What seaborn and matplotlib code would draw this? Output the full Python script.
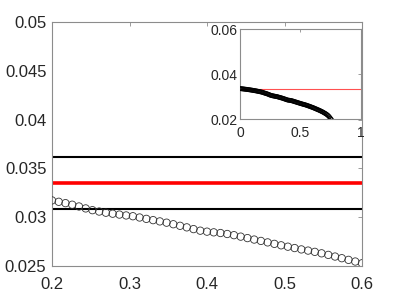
import numpy as np
import pandas as pd
import matplotlib
matplotlib.use('Agg')
import matplotlib.pyplot as plt
import seaborn as sns

sns.set_style("white")
plt.rcParams['font.family'] = ['Liberation Sans', 'DejaVu Sans']

# main data (x from 0.2 to 0.6, 47 points)
x_main = np.linspace(0.2, 0.6, 47)
y_main = [0.03172, 0.03158, 0.03144, 0.03128, 0.03110, 0.03090, 0.03072, 0.03058,
          0.03046, 0.03036, 0.03027, 0.03018, 0.03010, 0.02997, 0.02983, 0.02970,
          0.02957, 0.02944, 0.02928, 0.02912, 0.02896, 0.02878, 0.02862, 0.02852,
          0.02845, 0.02838, 0.02828, 0.02816, 0.02801, 0.02786, 0.02771, 0.02757,
          0.02742, 0.02727, 0.02712, 0.02698, 0.02684, 0.02670, 0.02658, 0.02645,
          0.02630, 0.02614, 0.02597, 0.02580, 0.02563, 0.02546, 0.02528]

# extra points only visible in the inset
x_pre = np.linspace(0.0, 0.2, 24)[:-1]
y_pre = [0.03365, 0.03360, 0.03355, 0.03350, 0.03344, 0.03338, 0.03332, 0.03326,
         0.03319, 0.03312, 0.03305, 0.03298, 0.03290, 0.03282, 0.03274, 0.03265,
         0.03256, 0.03247, 0.03237, 0.03227, 0.03216, 0.03205, 0.03190]
x_post = np.linspace(0.6, 0.7565, 19)[1:]
y_post = [0.02510, 0.02490, 0.02470, 0.02450, 0.02430, 0.02410, 0.02388, 0.02366,
          0.02343, 0.02318, 0.02292, 0.02264, 0.02234, 0.02200, 0.02160, 0.02110,
          0.02050, 0.01990]

upper = 0.0362
mean = 0.0335
lower = 0.0308

main = pd.DataFrame({'x': x_main, 'y': y_main})
full = pd.DataFrame({'x': np.concatenate([x_pre, x_main, x_post]),
                     'y': y_pre + y_main + y_post})

spine_c = '#8c8c8c'
text_c = '#262626'

fig = plt.figure(figsize=(4, 3), dpi=100)
ax = fig.add_axes([0.13, 0.1133, 0.775, 0.8134])

ax.axhline(upper, color='black', lw=1.5)
ax.axhline(lower, color='black', lw=1.5)
ax.axhline(mean, color='red', lw=2.6)
sns.scatterplot(data=main, x='x', y='y', ax=ax, marker='o', s=28,
                facecolors='none', edgecolor='#333333', linewidth=0.6, zorder=3)

ax.set_xlim(0.2, 0.6)
ax.set_ylim(0.025, 0.05)
ax.set_xticks([0.2, 0.3, 0.4, 0.5, 0.6])
ax.set_xticklabels(['0.2', '0.3', '0.4', '0.5', '0.6'])
ax.set_yticks([0.025, 0.03, 0.035, 0.04, 0.045, 0.05])
ax.set_yticklabels(['0.025', '0.03', '0.035', '0.04', '0.045', '0.05'])
ax.set_xlabel('')
ax.set_ylabel('')
ax.tick_params(direction='in', length=3, width=0.6, color=spine_c,
               labelsize=12, labelcolor=text_c, top=True, right=True)
ax.tick_params(axis='x', pad=8)
ax.tick_params(axis='y', pad=4)
for s in ax.spines.values():
    s.set_color(spine_c)
    s.set_linewidth(0.8)

# inset
axi = fig.add_axes([0.6, 0.6023, 0.302, 0.3])
axi.axhline(mean, color='#ff5050', lw=0.8)
sns.scatterplot(data=full, x='x', y='y', ax=axi, marker='o', s=8,
                facecolors='none', edgecolor='black', linewidth=0.7, zorder=3)
axi.set_xlim(0, 1)
axi.set_ylim(0.02, 0.06)
axi.set_xticks([0, 0.5, 1])
axi.set_xticklabels(['0', '0.5', '1'])
axi.set_yticks([0.02, 0.04, 0.06])
axi.set_yticklabels(['0.02', '0.04', '0.06'])
axi.set_xlabel('')
axi.set_ylabel('')
axi.tick_params(direction='in', length=2.5, width=0.6, color=spine_c,
                labelsize=10, labelcolor=text_c, top=True, right=True)
axi.tick_params(axis='x', pad=5)
axi.tick_params(axis='y', pad=2)
for s in axi.spines.values():
    s.set_color(spine_c)
    s.set_linewidth(0.8)

fig.savefig('out.png', dpi=100)
